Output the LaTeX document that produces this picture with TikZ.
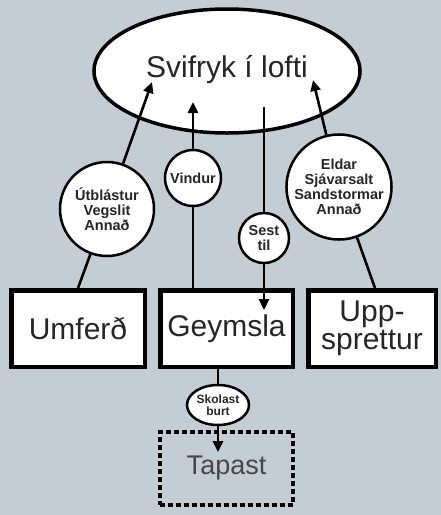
\documentclass[tikz,border=0pt]{standalone}
\usepackage{fontspec}
\setmainfont{Liberation Sans}
\usetikzlibrary{shapes.geometric,arrows.meta}
\definecolor{bgc}{HTML}{C5CDD4}
\definecolor{txt}{HTML}{262626}
\tikzset{
  conn/.style={line width=2.6pt, draw=black},
  arr/.style={conn, -{Triangle[length=11pt,width=10pt]}},
  bubble/.style={circle, draw=black, line width=2.5pt, fill=white, inner sep=0pt,
     font=\fontsize{14.5}{15}\selectfont\bfseries, text=txt, align=center},
  bigbox/.style={draw=black, line width=4.5pt, fill=white, inner sep=0pt,
     minimum height=76.5pt, font=\fontsize{30}{28}\selectfont, text=txt, align=center},
}
\begin{document}
\begin{tikzpicture}[x=1pt,y=-1pt]
\useasboundingbox[fill=bgc] (0,0) rectangle (441,515);
% main ellipse
\node[ellipse, draw=black, line width=3.5pt, fill=white, minimum width=266pt, minimum height=124pt,
  inner sep=0pt, font=\fontsize{30}{30}\selectfont, text=txt] (svif) at (227,71)
  {\raisebox{9pt}{Svifryk í lofti}};
% boxes
\node[bigbox, minimum width=133.5pt] (umf) at (78,328.5) {Umferð};
\node[bigbox, minimum width=132.5pt] (gey) at (226.5,328.5) {Geymsla};
\node[bigbox, minimum width=127.5pt] (upp) at (372,328.5) {Upp-\\sprettur};
\node[draw=black, line width=3.5pt, dash pattern=on 5pt off 3pt, minimum width=133pt, minimum height=73pt,
  inner sep=0pt, font=\fontsize{27}{27}\selectfont, text=black!72] (tap) at (226.5,468.5) {\raisebox{2pt}{Tapast}};
% bubbles
\node[bubble, minimum size=94pt] (ut) at (107,209) {Útblástur\\Vegslit\\Annað};
\node[bubble, minimum size=56pt] (vin) at (193,178) {Vindur};
\node[bubble, minimum size=50pt] (ses) at (264,238) {Sest\\til};
\node[bubble, minimum size=98pt] (eld) at (339,187) {Eldar\\Sjávarsalt\\Sandstormar\\Annað};
\node[ellipse, draw=black, line width=2.5pt, fill=white, inner sep=0pt, minimum width=62pt, minimum height=40pt,
  font=\fontsize{12}{12.5}\selectfont\bfseries, text=txt, align=center] (sko) at (218,405) {Skolast\\burt};
% coordinates
\coordinate (t1) at (152,82);
\coordinate (t2) at (193,102);
\coordinate (s3) at (264,107);
\coordinate (t4) at (313,80);
\coordinate (b1) at (78,288);
\coordinate (b2) at (193,288);
\coordinate (b3) at (264,310);
\coordinate (b4) at (375,288);
\coordinate (b5) at (218,452);
% connectors
\draw[arr] (ut) -- (t1);
\draw[conn] (ut) -- (b1);
\draw[arr] (vin) -- (t2);
\draw[conn] (vin) -- (b2);
\draw[conn] (s3) -- (ses);
\draw[arr] (ses) -- (b3);
\draw[arr] (eld) -- (t4);
\draw[conn] (eld) -- (b4);
\draw[conn] (gey.south -| sko) -- (sko);
\draw[arr] (sko) -- (b5);
\end{tikzpicture}
\end{document}
